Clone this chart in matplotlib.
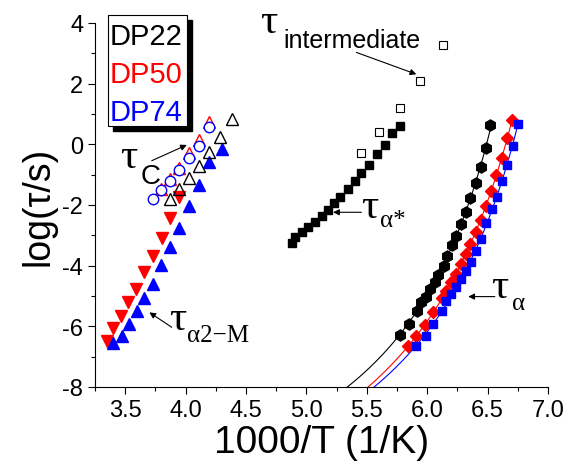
import matplotlib
matplotlib.use('Agg')
import matplotlib.pyplot as plt
import numpy as np
from matplotlib.patches import Rectangle

# tau_C (open symbols)
c22_x = [4.384, 4.285, 4.196, 4.114, 4.031, 3.948, 3.871]
c22_y = [0.82, 0.23, -0.25, -0.70, -1.12, -1.47, -1.81]
c50_x = [4.196, 4.111, 4.028, 3.948, 3.874, 3.800]
c50_y = [0.75, 0.15, -0.30, -0.78, -1.14, -1.47]
c74_x = [4.196, 4.111, 4.028, 3.948, 3.874, 3.800, 3.729]
c74_y = [0.56, -0.04, -0.46, -0.85, -1.20, -1.50, -1.81]

# tau_alpha2-M
m50_x = [3.948, 3.871, 3.803, 3.729, 3.657, 3.590, 3.527, 3.467, 3.403, 3.348]
m50_y = [-1.75, -2.43, -3.10, -3.67, -4.21, -4.77, -5.21, -5.65, -6.04, -6.47]
m74_x = [4.299, 4.196, 4.111, 4.031, 3.948, 3.871, 3.795, 3.729, 3.659, 3.596,
         3.533, 3.472, 3.403]
m74_y = [-0.17, -0.59, -1.34, -2.04, -2.77, -3.40, -3.99, -4.61, -5.08, -5.51,
         -5.93, -6.31, -6.55]

# tau_alpha* and tau_intermediate (DP22)
s22_x = [5.778, 5.712, 5.651, 5.585, 5.519, 5.456, 5.400, 5.345, 5.282, 5.227,
         5.175, 5.125, 5.070, 5.014, 4.960, 4.905, 4.877]
s22_y = [0.61, 0.37, -0.01, -0.31, -0.68, -0.94, -1.20, -1.47, -1.72, -1.94,
         -2.17, -2.36, -2.57, -2.72, -2.89, -3.07, -3.26]
i22_x = [6.130, 5.942, 5.778, 5.601, 5.456]
i22_y = [3.27, 2.09, 1.19, 0.42, -0.27]

# tau_alpha
a22_x = [6.524, 6.483, 6.448, 6.406, 6.357, 6.318, 6.277, 6.241, 6.208, 6.167,
         6.136, 6.089, 6.062, 6.020, 5.987, 5.952, 5.915, 5.849, 5.778]
a22_y = [0.63, -0.13, -0.75, -1.28, -1.77, -2.22, -2.62, -3.01, -3.33, -3.68,
         -4.02, -4.30, -4.55, -4.77, -5.04, -5.19, -5.49, -5.92, -6.30]
a50_x = [6.704, 6.659, 6.621, 6.571, 6.530, 6.483, 6.442, 6.405, 6.357, 6.323,
         6.276, 6.241, 6.200, 6.158, 6.125, 6.048, 5.979, 5.910, 5.841]
a50_y = [0.81, 0.20, -0.46, -1.01, -1.53, -2.03, -2.48, -2.89, -3.28, -3.61,
         -3.94, -4.28, -4.55, -4.82, -5.08, -5.54, -5.97, -6.32, -6.65]
a74_x = [6.750, 6.709, 6.659, 6.618, 6.577, 6.535, 6.489, 6.448, 6.406, 6.365,
         6.318, 6.282, 6.241, 6.200, 6.158, 6.122, 6.048, 5.987, 5.910]
a74_y = [0.67, -0.04, -0.68, -1.22, -1.72, -2.12, -2.59, -3.12, -3.53, -3.89,
         -4.16, -4.44, -4.71, -4.93, -5.18, -5.49, -5.92, -6.32, -6.65]

legend_names = ['DP22', 'DP50', 'DP74']
legend_colors = ['black', 'red', 'blue']


def vft_fit(x, y):
    T = 1000.0 / np.asarray(x)
    y = np.asarray(y)
    best = None
    for T0 in np.linspace(0, T.min() - 1, 3000):
        X = np.column_stack([np.ones_like(T), 1.0 / (T - T0)])
        coef = np.linalg.lstsq(X, y, rcond=None)[0]
        r = np.sum((X @ coef - y) ** 2)
        if best is None or r < best[0]:
            best = (r, T0, coef)
    return best[1], best[2]


sans = 'Liberation Sans'
serif = 'Liberation Serif'
plt.rcParams['font.family'] = sans

fig = plt.figure(figsize=(5.67, 4.64), dpi=100)
ax = fig.add_axes([95 / 567, 1 - 388 / 464, (548 - 95) / 567, (388 - 24) / 464])

# fit lines
for x, y, col in [(a22_x, a22_y, 'black'), (a50_x, a50_y, 'red'), (a74_x, a74_y, 'blue')]:
    T0, (A, B) = vft_fit(x, y)
    xs = np.linspace(5.0, max(x), 400)
    ax.plot(xs, A + B / (1000.0 / xs - T0), color=col, lw=0.8)

ax.plot(a22_x, a22_y, 'h', color='black', ms=8, mec='black')
ax.plot(a50_x, a50_y, 'D', color='red', ms=6.5, mec='red')
ax.plot(a74_x, a74_y, 's', color='blue', ms=6, mec='blue')

ax.plot(s22_x, s22_y, 's', color='black', ms=5.5)
ax.plot(i22_x, i22_y, 's', mfc='white', mec='black', ms=6, mew=0.8)

ax.plot(m50_x, m50_y, 'v', color='red', ms=8.5)
ax.plot(m74_x, m74_y, '^', color='blue', ms=8.5)

ax.plot(c22_x, c22_y, '^', mfc='none', mec='black', ms=8, mew=1)
ax.plot(c50_x, c50_y, '^', mfc='none', mec='red', ms=8, mew=1)
ax.plot(c74_x, c74_y, 'o', mfc='white', mec='blue', ms=7.5, mew=1)

# annotations
arr = dict(arrowstyle='-|>', lw=0.8, color='black', mutation_scale=9, shrinkA=0, shrinkB=0)
tau_fs = 31
sub_fs = 18
ax.annotate('', xy=(4.01, -0.02), xytext=(3.72, -0.54), arrowprops=arr)
ax.text(3.46, -0.75, '\u03c4', family=serif, fontsize=tau_fs)
ax.text(3.625, -1.26, 'C', family=sans, fontsize=20)

ax.annotate('', xy=(3.70, -5.54), xytext=(3.885, -6.03), arrowprops=arr)
ax.text(3.86, -6.09, '\u03c4', family=serif, fontsize=tau_fs)
ax.text(4.015, -6.48, '\u03b12\u2212M', family=serif, fontsize=sub_fs)

ax.annotate('', xy=(5.221, -2.24), xytext=(5.455, -2.24), arrowprops=arr)
ax.text(5.456, -2.40, '\u03c4', family=serif, fontsize=tau_fs)
ax.text(5.607, -2.69, '\u03b1*', family=serif, fontsize=sub_fs)

ax.annotate('', xy=(6.34, -5.02), xytext=(6.56, -5.02), arrowprops=arr)
ax.text(6.531, -5.03, '\u03c4', family=serif, fontsize=tau_fs)
ax.text(6.698, -5.43, '\u03b1', family=serif, fontsize=sub_fs)

ax.annotate('', xy=(5.91, 2.31), xytext=(5.414, 3.03), arrowprops=arr)
ax.text(4.619, 3.69, '\u03c4', family=serif, fontsize=tau_fs)
ax.text(4.808, 3.22, 'intermediate', family=sans, fontsize=18)

ax.set_xlim(3.25, 7.0)
ax.set_ylim(-8, 4)
ax.set_xticks(np.arange(3.5, 7.01, 0.5))
ax.set_xticks(np.arange(3.25, 7.01, 0.25), minor=True)
ax.set_yticks(np.arange(-8, 4.1, 2))
ax.set_yticks(np.arange(-8, 4.1, 1), minor=True)
ax.xaxis.set_major_formatter(plt.FormatStrFormatter('%.1f'))
ax.yaxis.set_major_formatter(plt.FuncFormatter(lambda v, p: '%d' % v))
ax.tick_params(which='major', direction='out', length=5, width=0.8, labelsize=17)
ax.tick_params(which='minor', direction='out', length=3, width=0.8)
for s in ['top', 'right']:
    ax.spines[s].set_visible(False)
for s in ['left', 'bottom']:
    ax.spines[s].set_linewidth(0.8)

ax.set_xlabel('1000/T (1/K)', fontsize=28, labelpad=2)
ax.set_ylabel('log(\u03c4/s)', fontsize=27, labelpad=4)

# legend box with shadow
W, H = 567.0, 464.0
fig.patches.append(Rectangle((113 / W, 1 - 132 / H), 79 / W, 111 / H, transform=fig.transFigure,
                             facecolor='black', edgecolor='black', zorder=5))
fig.patches.append(Rectangle((108 / W, 1 - 127 / H), 79 / W, 111 / H, transform=fig.transFigure,
                             facecolor='white', edgecolor='black', lw=0.8, zorder=6))
for i, (name, col) in enumerate(zip(legend_names, legend_colors)):
    fig.text(109.5 / W, 1 - (45 + 38 * i) / H, name, color=col, fontsize=21,
             family=sans, va='baseline', zorder=7)

fig.savefig('out.png', dpi=100)
